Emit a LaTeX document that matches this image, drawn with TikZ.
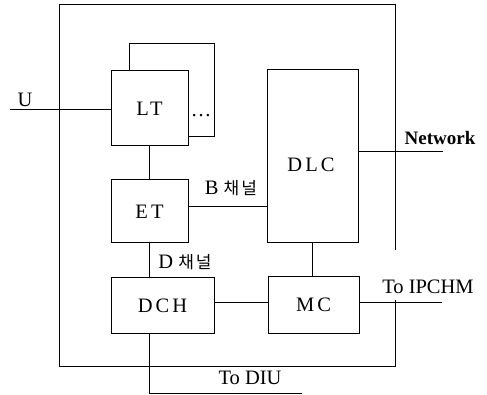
\documentclass[tikz,border=0pt]{standalone}
\usepackage{fontspec}
\setmainfont{Liberation Serif}
\newfontfamily\cjk[LetterSpace=12]{Noto Sans CJK KR}
\newfontfamily\spaced[LetterSpace=15]{Liberation Serif}
\tikzset{
  blk/.style={draw,line width=1pt,inner sep=0pt,font=\spaced\fontsize{20.5}{23}\selectfont},
  lbl/.style={inner sep=0pt,font=\fontsize{20.5}{23}\selectfont},
  kor/.style={inner sep=0pt,font=\fontsize{20.5}{23}\selectfont}
}
\begin{document}
\begin{tikzpicture}[x=1pt,y=-1pt,line width=1pt]
      \useasboundingbox (0,0) rectangle (487,395);
      % outer frame
      \draw (395,250) -- (395,5) -- (59,5) -- (59,366) -- (395,366) -- (395,300);
      % blocks
      \node[blk,minimum width=77pt,minimum height=75pt] (LT) at (149.5,108.5) {LT};
      \draw (129,71) -- (129,44) -- (214,44) -- (214,137) -- (188,137);
      \node[lbl] (dots) at (201,116) {\dots};
      \node[blk,minimum width=91pt,minimum height=173pt] (DLC) at (312.5,156.5) {};
      \node[blk,draw=none] (dlctxt) at (311,165) {DLC};
      \node[blk,minimum width=77pt,minimum height=63pt] (ET) at (149.5,211.5) {ET};
      \node[blk,minimum width=103pt,minimum height=55pt] (DCH) at (162.5,305.5) {DCH};
      \node[blk,minimum width=91pt,minimum height=56pt] (MC) at (313.5,305) {MC};
      % free ends
      \coordinate (U) at (10,110);
      \coordinate (net) at (443,152);
      \coordinate (ipchm) at (442,302);
      \coordinate (diu) at (302,393);
      % connectors
      \draw (U) -- (U -| LT.west);
      \draw (LT.south) -- (LT.south |- ET.north);
      \draw ([yshift=4.5pt]ET.east) -- ([yshift=4.5pt]ET.east -| DLC.west);
      \draw (ET.south) -- (ET.south |- DCH.north);
      \draw (DLC.south) -- (DLC.south |- MC.north);
      \draw (DCH.east |- ipchm) -- (MC.west |- ipchm);
      \draw (MC.east |- ipchm) -- (ipchm);
      \draw (net -| DLC.east) -- (net);
      \draw (ET.south |- DCH.south) -- (ET.south |- diu) -- (diu);
      % labels
      \node[lbl] (ulbl) at (25,100) {U};
      \node[lbl,font=\bfseries\fontsize{19}{22}\selectfont] (netlbl) at (440,138) {Network};
      \node[kor] (blbl) at (231,188) {B {\cjk\fontsize{17}{19}\selectfont 채널}};
      \node[kor] (dlbl) at (185,262) {D {\cjk\fontsize{17}{19}\selectfont 채널}};
      \node[lbl] (ipchmlbl) at (428,287) {To IPCHM};
      \node[lbl] (diulbl) at (250,378) {To DIU};
    \end{tikzpicture}
\end{document}
